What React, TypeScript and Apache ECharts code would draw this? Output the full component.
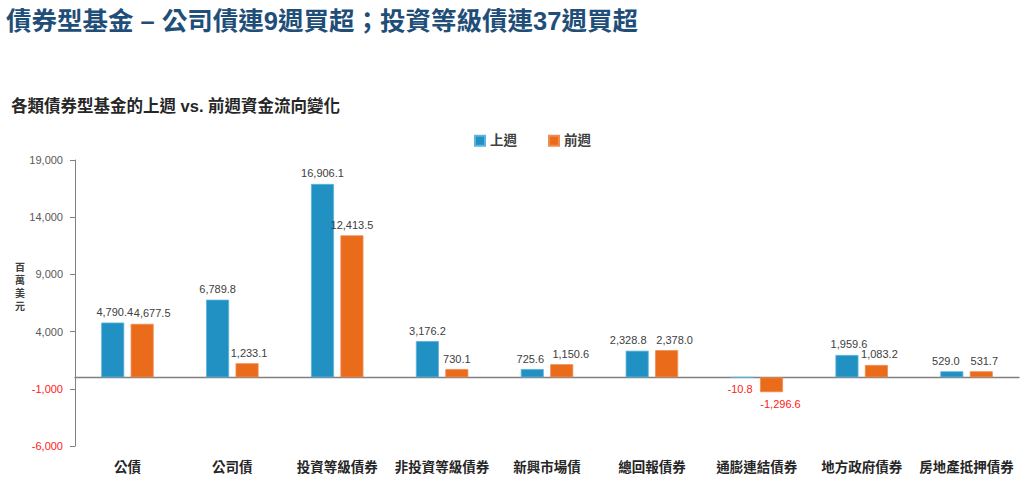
import React, { useEffect, useRef } from "react";
import * as echarts from "echarts";

const categories = ["公債", "公司債", "投資等級債券", "非投資等級債券", "新興市場債", "總回報債券", "通膨連結債券", "地方政府債券", "房地產抵押債券"];
const lastWeek = [4790.4, 6789.8, 16906.1, 3176.2, 725.6, 2328.8, -10.8, 1959.6, 529.0];
const prevWeek = [4677.5, 1233.1, 12413.5, 730.1, 1150.6, 2378.0, -1296.6, 1083.2, 531.7];
const yTicks = { min: -6000, max: 19000, interval: 5000 };

const title = "債券型基金 – 公司債連9週買超；投資等級債連37週買超";
const subtitle = "各類債券型基金的上週 vs. 前週資金流向變化";
const yName = "百萬美元";

// label nudges (px) to mimic the reference's label placement
const lastWeekLabelShift = [2, 0, 0, 0, -2, -9, -2, 2, -6];
const prevWeekLabelShift = [10, 2, 0, 0, 9, 8, 9, 3, 3];

const FONT = "'Liberation Sans', Arial, 'Noto Sans CJK TC', sans-serif";

const fmt = (v: number) =>
  v.toLocaleString("en-US", { minimumFractionDigits: 1, maximumFractionDigits: 1 });

const mkData = (arr: number[], shifts: number[]) =>
  arr.map((v, i) => ({
    value: v,
    label: {
      position: v < 0 ? "bottom" : "top",
      color: v < 0 ? "#FF2020" : "#404040",
      distance: v < 0 ? 6 : 5,
      offset: [shifts[i], 0],
    },
  }));

export default function App() {
  const ref = useRef<HTMLDivElement>(null);
  useEffect(() => {
    if (!ref.current) return;
    const chart = echarts.init(ref.current, undefined, { renderer: "svg" });
    chart.setOption({
      animation: false,
      backgroundColor: "#ffffff",
      title: [
        {
          text: title,
          left: 1,
          top: 3,
          textStyle: { fontFamily: FONT, fontSize: 25.5, fontWeight: "bold", color: "#1F4E79" },
        },
        {
          text: subtitle,
          left: 6,
          top: 93,
          textStyle: { fontFamily: FONT, fontSize: 16.5, fontWeight: "bold", color: "#262626" },
        },
      ],
      legend: {
        top: 134,
        left: 474,
        padding: 0,
        itemWidth: 10,
        itemHeight: 10,
        itemGap: 31,
        icon: "rect",
        textStyle: { fontFamily: FONT, fontSize: 13.5, fontWeight: "bold", color: "#404040" },
        data: ["上週", "前週"],
      },
      graphic: [
        {
          type: "text",
          left: 15,
          top: 261,
          style: {
            text: yName.split("").join("\n"),
            font: `bold 10px ${FONT}`,
            fill: "#404040",
            lineHeight: 13,
          },
        },
      ],
      grid: { left: 75, right: 5, top: 160, bottom: 34, containLabel: false },
      xAxis: {
        type: "category",
        data: categories,
        axisLine: { onZero: true, lineStyle: { color: "#808080", width: 1.3 } },
        axisTick: { show: false },
        axisLabel: {
          interval: 0,
          fontFamily: FONT,
          fontSize: 13.5,
          fontWeight: "bold",
          color: "#262626",
          margin: 15,
        },
        position: "bottom",
      },
      yAxis: {
        type: "value",
        min: yTicks.min,
        max: yTicks.max,
        interval: yTicks.interval,
        splitLine: { show: false },
        axisLine: { show: true, lineStyle: { color: "#808080" } },
        axisTick: { show: true, inside: false, length: 5, lineStyle: { color: "#808080" } },
        axisLabel: {
          fontFamily: FONT,
          fontSize: 11,
          margin: 12,
          formatter: (v: number) => v.toLocaleString("en-US"),
          color: (v: any) => (Number(v) < 0 ? "#FF2020" : "#595959"),
        },
      },
      series: [
        {
          name: "上週",
          type: "bar",
          data: mkData(lastWeek, lastWeekLabelShift),
          barWidth: 23,
          barGap: "28%",
          itemStyle: { color: "#2191C4", borderColor: "#5DB3DC", borderWidth: 0.8 },
          label: {
            show: true,
            fontFamily: FONT,
            fontSize: 11,
            formatter: (p: any) => fmt(p.value),
          },
        },
        {
          name: "前週",
          type: "bar",
          data: mkData(prevWeek, prevWeekLabelShift),
          barWidth: 23,
          itemStyle: { color: "#EA6B1A", borderColor: "#F08C50", borderWidth: 0.8 },
          label: {
            show: true,
            fontFamily: FONT,
            fontSize: 11,
            formatter: (p: any) => fmt(p.value),
          },
        },
      ],
    });
    return () => chart.dispose();
  }, []);
  return <div ref={ref} style={{ width: 1024, height: 480, position: "absolute", left: 0, top: 0 }} />;
}
